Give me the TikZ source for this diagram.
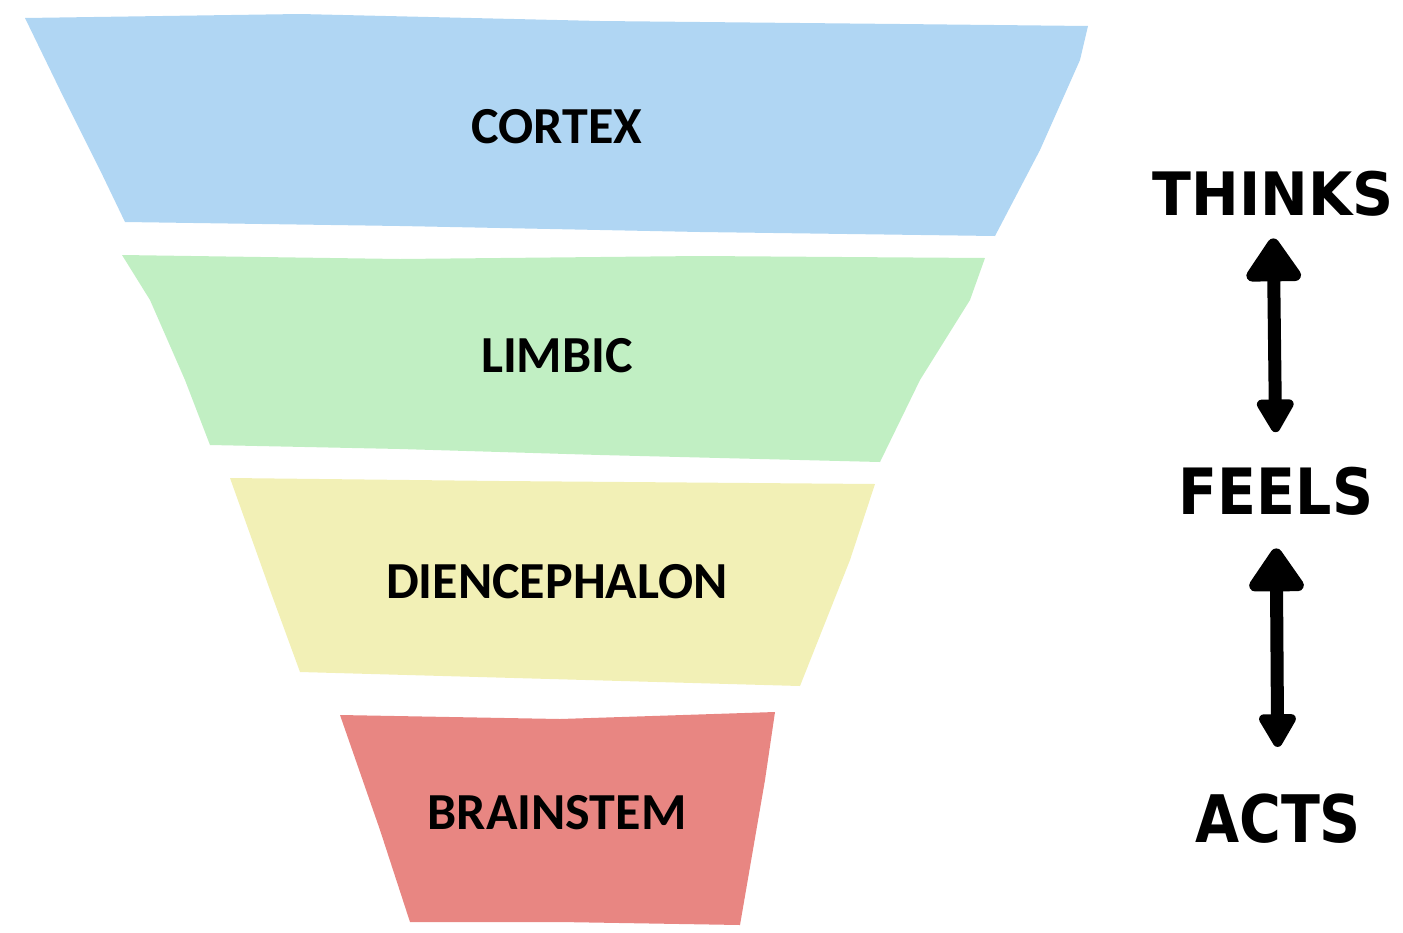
\documentclass[tikz,border=0pt]{standalone}
\usepackage{fontspec}
\usepackage{graphicx}
\newfontfamily\bandfont{Carlito}
\newfontfamily\sidefont{DejaVu Sans}
\usetikzlibrary{arrows.meta, positioning}
\definecolor{cortexblue}{RGB}{176,214,243}
\definecolor{limbicgreen}{RGB}{193,239,195}
\definecolor{dienyellow}{RGB}{242,240,182}
\definecolor{stemred}{RGB}{232,134,130}
\newcommand{\tallword}[2]{\scalebox{1}[#1]{#2}}
\tikzstyle{band}=[draw=none, line join=round]
\tikzstyle{layer}=[inner sep=0pt, anchor=base, font=\bandfont\bfseries\fontsize{26}{26}\selectfont]
\tikzstyle{verb}=[inner sep=0pt, text depth=0pt, anchor=base, font=\sidefont\bfseries\fontsize{28.5}{28.5}\selectfont]
\tikzstyle{updown}=[line width=6.5pt, {Triangle[width=31pt,length=24pt,round]}-{Triangle[width=20.5pt,length=19pt,round]}]

\begin{document}
\begin{tikzpicture}[x=0.5pt, y=-0.5pt]
  \useasboundingbox (0,0) rectangle (1403,932);
  % the four brain layers
  \fill[band, cortexblue] (25,18) -- (300,14) -- (600,21) -- (900,24) -- (1088,26) -- (1080,60)
    -- (1040,150) -- (995,236) -- (700,232) -- (400,226) -- (125,222) -- (100,170) -- (60,90) -- cycle;
  \fill[band, limbicgreen] (122,255) -- (400,259) -- (700,256) -- (985,258) -- (970,300)
    -- (920,380) -- (880,462) -- (600,455) -- (400,449) -- (210,445) -- (185,380) -- (150,300) -- cycle;
  \fill[band, dienyellow] (230,478) -- (500,481) -- (875,484) -- (850,560) -- (800,686)
    -- (550,679) -- (300,672) -- (270,590) -- cycle;
  \fill[band, stemred] (340,715) -- (560,719) -- (775,712) -- (765,780) -- (740,925)
    -- (560,922) -- (410,922) -- (380,830) -- cycle;
  \node[layer] (cortex) at (557,143) {CORTEX};
  \node[layer] (limbic) at (557,372) {LIMBIC};
  \node[layer] (dien) at (557,598) {DIENCEPHALON};
  \node[layer] (stem) at (557,829) {BRAINSTEM};
  % what each level does
  \node[verb] (thinks) at (1273,215) {\tallword{1.05}{THINKS}};
  \node[verb] (feels) at (1276,514) {\tallword{1.12}{FEELS}};
  \node[verb] (acts) at (1278,842) {\tallword{1.15}{ACTS}};
  \draw[updown, shorten <=11.5pt, shorten >=17pt] (thinks.south) -- (feels.north);
  \draw[updown, shorten <=17pt, shorten >=23pt] (feels.south) -- (acts.north);
\end{tikzpicture}
\end{document}
